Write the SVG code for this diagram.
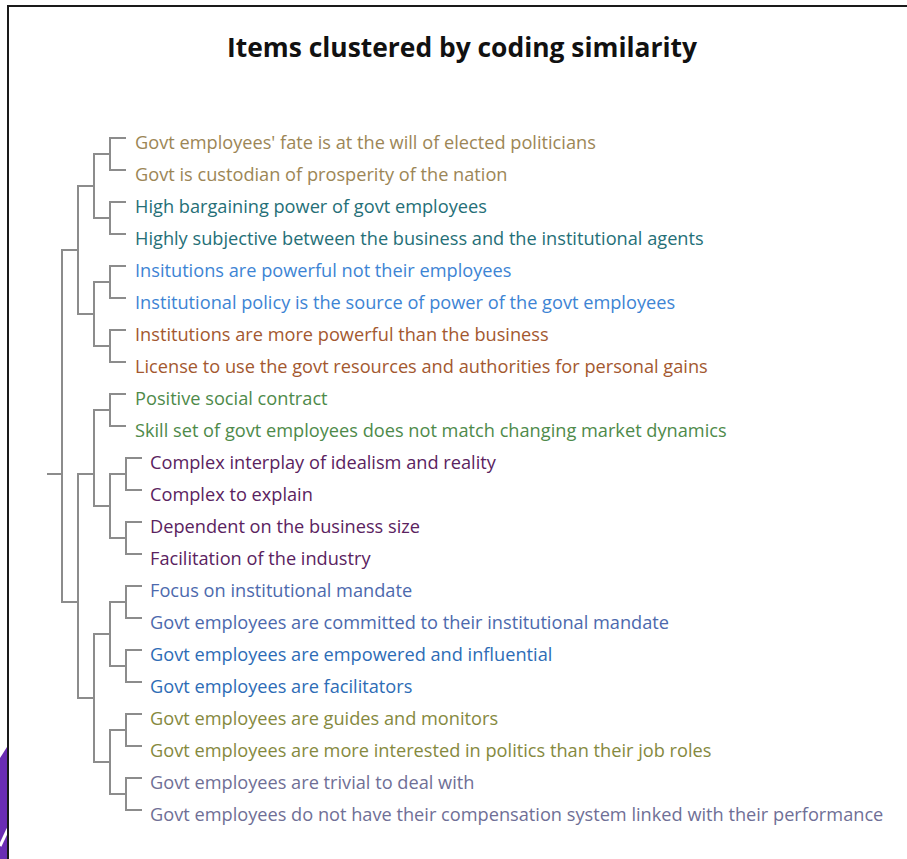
<svg xmlns="http://www.w3.org/2000/svg" width="907" height="859" viewBox="0 0 907 859">
<style>
.t{font-family:"Open Sans","Noto Sans","DejaVu Sans",sans-serif;font-size:18.2px}
.ttl{font-family:"Open Sans","Noto Sans","DejaVu Sans",sans-serif;font-size:26.4px;font-weight:bold;fill:#111}
.br{fill:none;stroke:#8c8c8c;stroke-width:2}
.c1{fill:#9c8656}.c2{fill:#256f77}.c3{fill:#3d84d4}.c4{fill:#a3582f}.c5{fill:#4e8a4a}
.c6{fill:#5a2260}.c7{fill:#4c69ad}.c8{fill:#2d6cb6}.c9{fill:#85893e}.c10{fill:#6f6f96}
</style>
<rect width="907" height="859" fill="#fff"/>
<g id="frame">
<polygon points="0,758 7,747 7,859 0,859" fill="#6a2db3"/>
<line x1="0" y1="846" x2="8" y2="829" stroke="#fff" stroke-width="3"/>
<line x1="7" y1="6" x2="907" y2="6" stroke="#1a1a1a" stroke-width="2"/>
<line x1="8" y1="6" x2="8" y2="859" stroke="#1a1a1a" stroke-width="2"/>
</g>
<text id="title" class="ttl" x="462" y="57" text-anchor="middle">Items clustered by coding similarity</text>
<g id="connectors" class="br">
<path d="M126,138 H110 V170 H126"/>
<path d="M126,202 H110 V234 H126"/>
<path d="M126,266 H110 V298 H126"/>
<path d="M126,330 H110 V362 H126"/>
<path d="M126,394 H110 V426 H126"/>
<path d="M142,458 H126 V490 H142"/>
<path d="M142,522 H126 V554 H142"/>
<path d="M142,586 H126 V618 H142"/>
<path d="M142,650 H126 V682 H142"/>
<path d="M142,714 H126 V746 H142"/>
<path d="M142,778 H126 V810 H142"/>
<path d="M110,154 H94 V218 H110"/>
<path d="M110,282 H94 V346 H110"/>
<path d="M94,186 H78 V314 H94"/>
<path d="M78,250 H62 V602 H78"/>
<path d="M62,474 H47"/>
<path d="M94,474 H78 V698 H94"/>
<path d="M110,410 H94 V506 H110"/>
<path d="M126,474 H110 V538 H126"/>
<path d="M110,634 H94 V762 H110"/>
<path d="M126,602 H110 V666 H126"/>
<path d="M126,730 H110 V794 H126"/>
</g>
<g id="n1"><text class="t c1" x="135" y="149">Govt employees' fate is at the will of elected politicians</text></g>
<g id="n2"><text class="t c1" x="135" y="181">Govt is custodian of prosperity of the nation</text></g>
<g id="n3"><text class="t c2" x="135" y="213">High bargaining power of govt employees</text></g>
<g id="n4"><text class="t c2" x="135" y="245">Highly subjective between the business and the institutional agents</text></g>
<g id="n5"><text class="t c3" x="135" y="277">Insitutions are powerful not their employees</text></g>
<g id="n6"><text class="t c3" x="135" y="309">Institutional policy is the source of power of the govt employees</text></g>
<g id="n7"><text class="t c4" x="135" y="341">Institutions are more powerful than the business</text></g>
<g id="n8"><text class="t c4" x="135" y="373">License to use the govt resources and authorities for personal gains</text></g>
<g id="n9"><text class="t c5" x="135" y="405">Positive social contract</text></g>
<g id="n10"><text class="t c5" x="135" y="437">Skill set of govt employees does not match changing market dynamics</text></g>
<g id="n11"><text class="t c6" x="150" y="469">Complex interplay of idealism and reality</text></g>
<g id="n12"><text class="t c6" x="150" y="501">Complex to explain</text></g>
<g id="n13"><text class="t c6" x="150" y="533">Dependent on the business size</text></g>
<g id="n14"><text class="t c6" x="150" y="565">Facilitation of the industry</text></g>
<g id="n15"><text class="t c7" x="150" y="597">Focus on institutional mandate</text></g>
<g id="n16"><text class="t c7" x="150" y="629">Govt employees are committed to their institutional mandate</text></g>
<g id="n17"><text class="t c8" x="150" y="661">Govt employees are empowered and influential</text></g>
<g id="n18"><text class="t c8" x="150" y="693">Govt employees are facilitators</text></g>
<g id="n19"><text class="t c9" x="150" y="725">Govt employees are guides and monitors</text></g>
<g id="n20"><text class="t c9" x="150" y="757">Govt employees are more interested in politics than their job roles</text></g>
<g id="n21"><text class="t c10" x="150" y="789">Govt employees are trivial to deal with</text></g>
<g id="n22"><text class="t c10" x="150" y="821">Govt employees do not have their compensation system linked with their performance</text></g>
</svg>
